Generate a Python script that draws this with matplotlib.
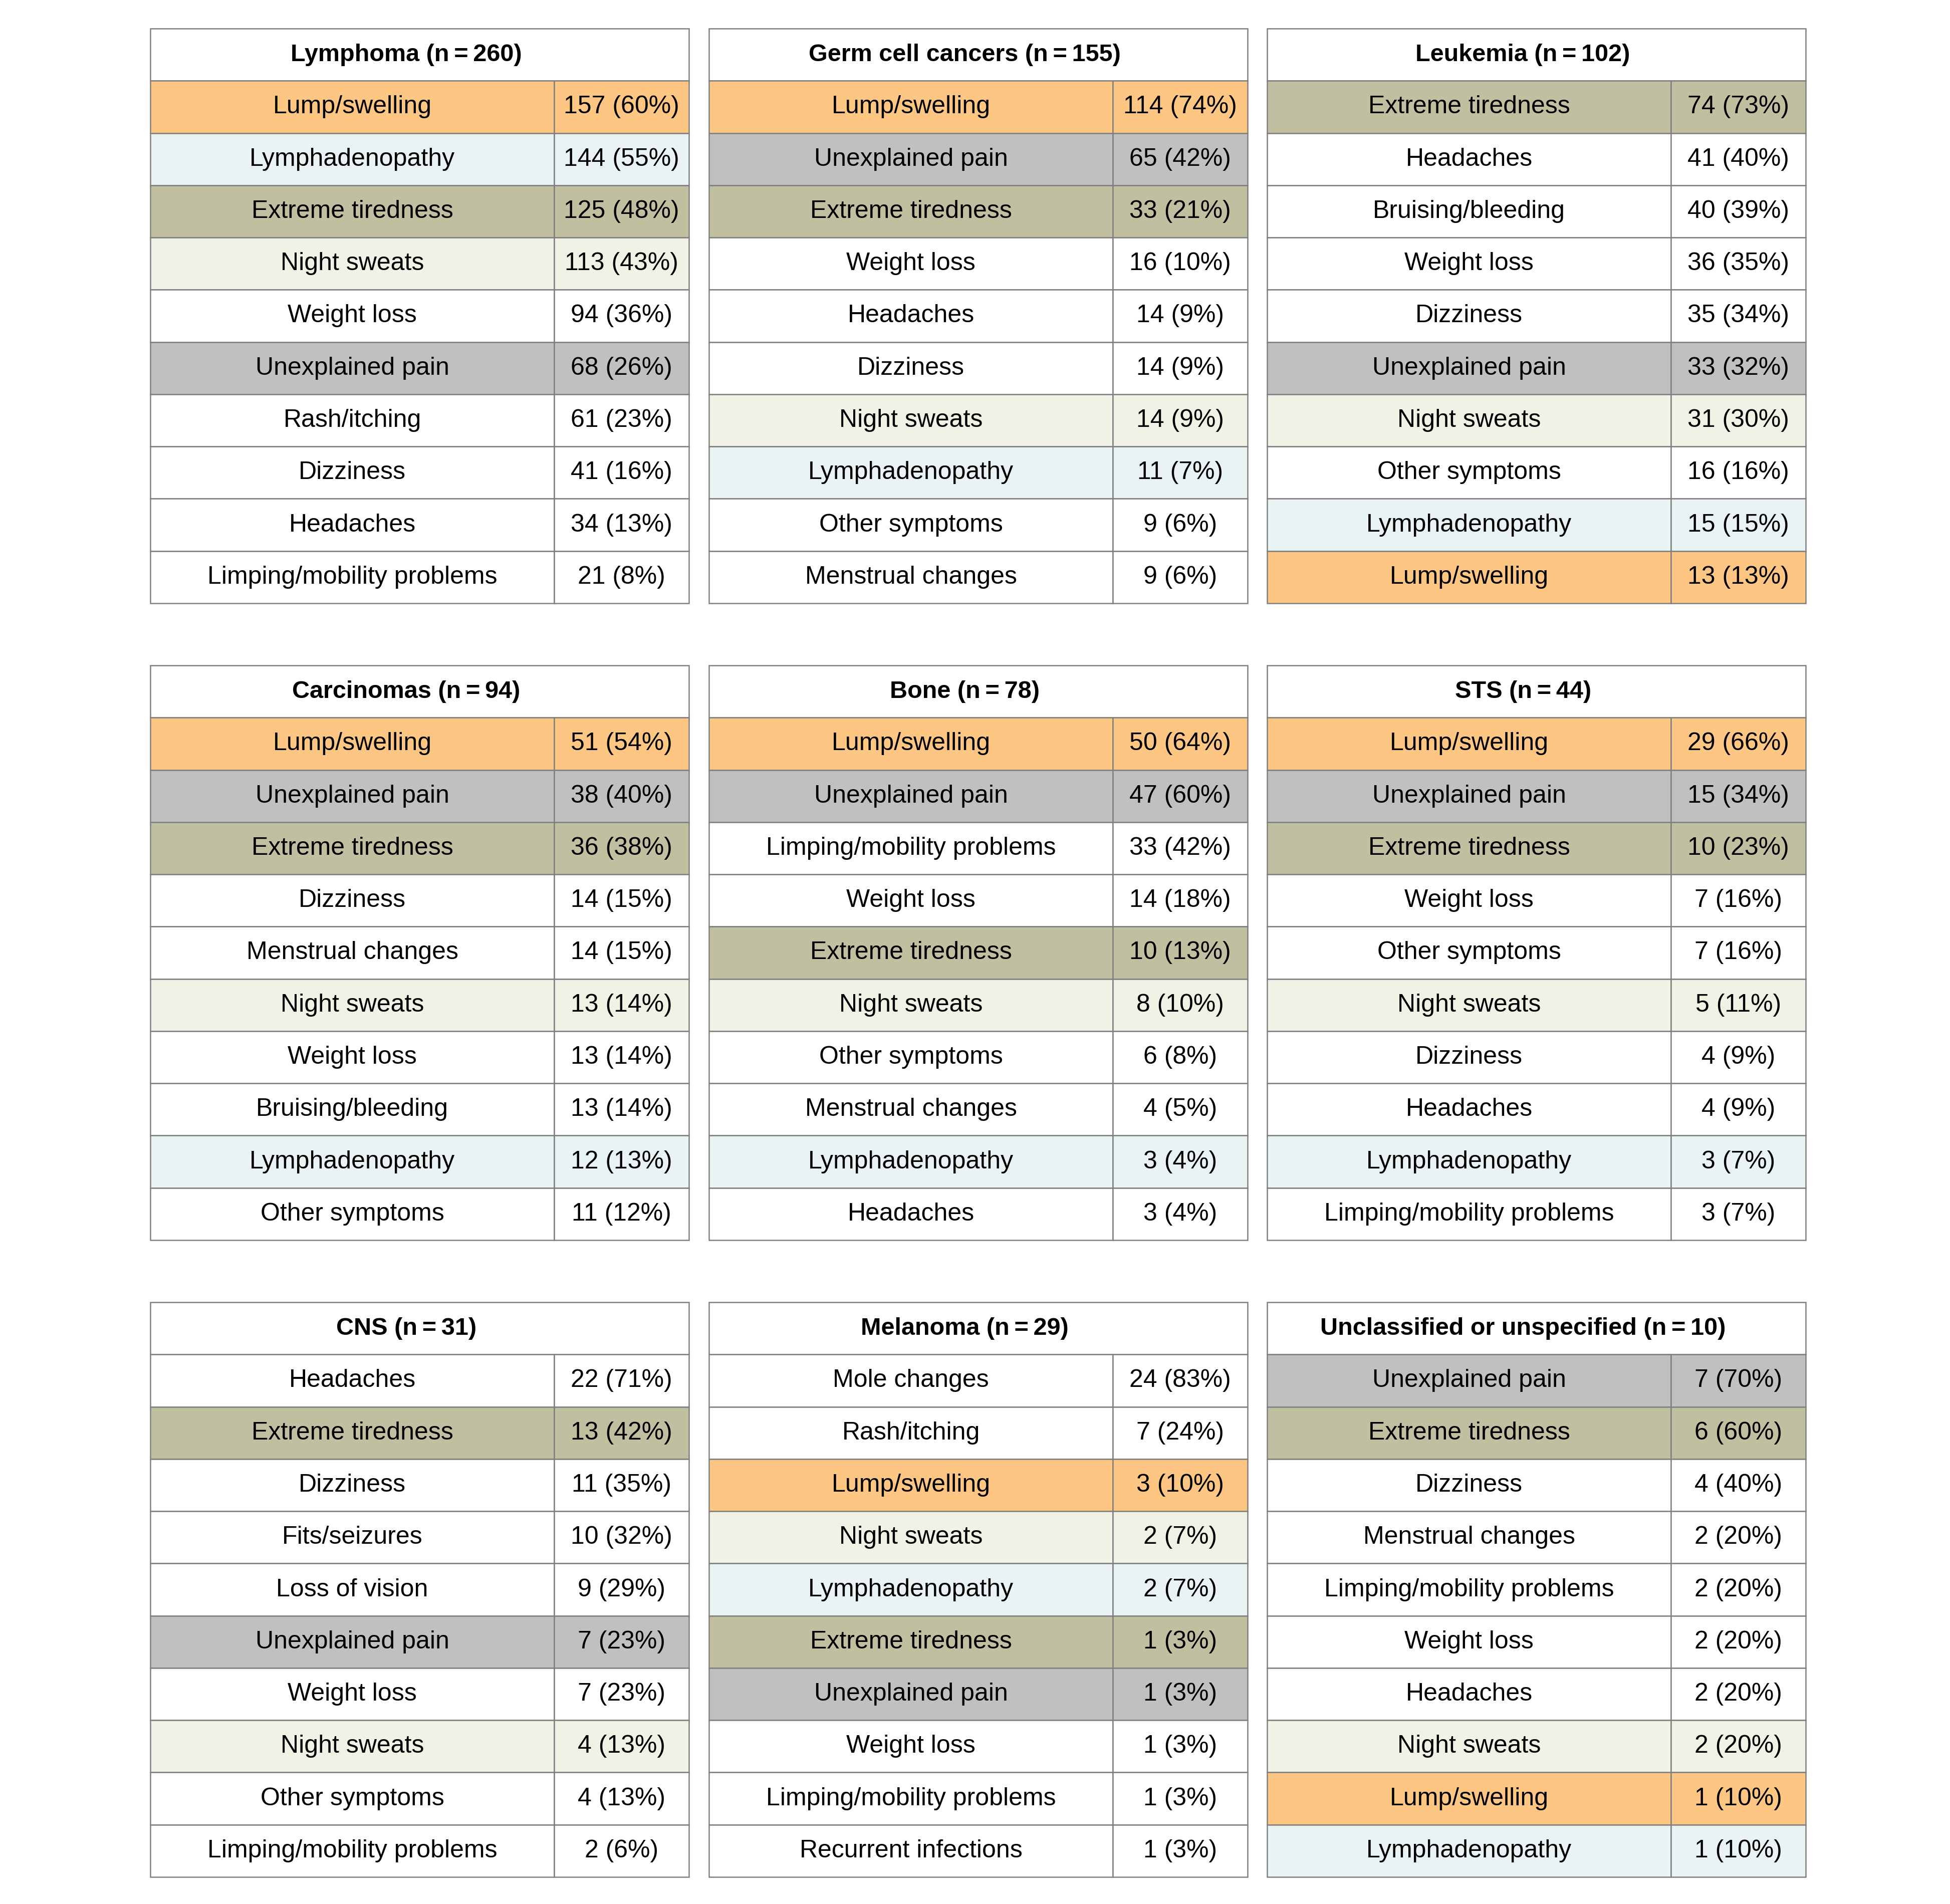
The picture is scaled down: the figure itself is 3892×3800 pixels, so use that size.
import matplotlib.pyplot as plt

''' Symptom tables by cancer group, 3 x 3 grid of small tables '''

plt.rcParams['font.family'] = ['Liberation Sans', 'DejaVu Sans']

groups = ['Lymphoma', 'Germ cell cancers', 'Leukemia',
          'Carcinomas', 'Bone', 'STS',
          'CNS', 'Melanoma', 'Unclassified or unspecified']
group_n = [260, 155, 102, 94, 78, 44, 31, 29, 10]

lymphoma_sym = ['Lump/swelling', 'Lymphadenopathy', 'Extreme tiredness', 'Night sweats', 'Weight loss',
                'Unexplained pain', 'Rash/itching', 'Dizziness', 'Headaches', 'Limping/mobility problems']
lymphoma_cnt = [157, 144, 125, 113, 94, 68, 61, 41, 34, 21]
lymphoma_pct = [60, 55, 48, 43, 36, 26, 23, 16, 13, 8]

germ_sym = ['Lump/swelling', 'Unexplained pain', 'Extreme tiredness', 'Weight loss', 'Headaches',
            'Dizziness', 'Night sweats', 'Lymphadenopathy', 'Other symptoms', 'Menstrual changes']
germ_cnt = [114, 65, 33, 16, 14, 14, 14, 11, 9, 9]
germ_pct = [74, 42, 21, 10, 9, 9, 9, 7, 6, 6]

leukemia_sym = ['Extreme tiredness', 'Headaches', 'Bruising/bleeding', 'Weight loss', 'Dizziness',
                'Unexplained pain', 'Night sweats', 'Other symptoms', 'Lymphadenopathy', 'Lump/swelling']
leukemia_cnt = [74, 41, 40, 36, 35, 33, 31, 16, 15, 13]
leukemia_pct = [73, 40, 39, 35, 34, 32, 30, 16, 15, 13]

carcinoma_sym = ['Lump/swelling', 'Unexplained pain', 'Extreme tiredness', 'Dizziness', 'Menstrual changes',
                 'Night sweats', 'Weight loss', 'Bruising/bleeding', 'Lymphadenopathy', 'Other symptoms']
carcinoma_cnt = [51, 38, 36, 14, 14, 13, 13, 13, 12, 11]
carcinoma_pct = [54, 40, 38, 15, 15, 14, 14, 14, 13, 12]

bone_sym = ['Lump/swelling', 'Unexplained pain', 'Limping/mobility problems', 'Weight loss', 'Extreme tiredness',
            'Night sweats', 'Other symptoms', 'Menstrual changes', 'Lymphadenopathy', 'Headaches']
bone_cnt = [50, 47, 33, 14, 10, 8, 6, 4, 3, 3]
bone_pct = [64, 60, 42, 18, 13, 10, 8, 5, 4, 4]

sts_sym = ['Lump/swelling', 'Unexplained pain', 'Extreme tiredness', 'Weight loss', 'Other symptoms',
           'Night sweats', 'Dizziness', 'Headaches', 'Lymphadenopathy', 'Limping/mobility problems']
sts_cnt = [29, 15, 10, 7, 7, 5, 4, 4, 3, 3]
sts_pct = [66, 34, 23, 16, 16, 11, 9, 9, 7, 7]

cns_sym = ['Headaches', 'Extreme tiredness', 'Dizziness', 'Fits/seizures', 'Loss of vision',
           'Unexplained pain', 'Weight loss', 'Night sweats', 'Other symptoms', 'Limping/mobility problems']
cns_cnt = [22, 13, 11, 10, 9, 7, 7, 4, 4, 2]
cns_pct = [71, 42, 35, 32, 29, 23, 23, 13, 13, 6]

melanoma_sym = ['Mole changes', 'Rash/itching', 'Lump/swelling', 'Night sweats', 'Lymphadenopathy',
                'Extreme tiredness', 'Unexplained pain', 'Weight loss', 'Limping/mobility problems',
                'Recurrent infections']
melanoma_cnt = [24, 7, 3, 2, 2, 1, 1, 1, 1, 1]
melanoma_pct = [83, 24, 10, 7, 7, 3, 3, 3, 3, 3]

unclass_sym = ['Unexplained pain', 'Extreme tiredness', 'Dizziness', 'Menstrual changes',
               'Limping/mobility problems', 'Weight loss', 'Headaches', 'Night sweats', 'Lump/swelling',
               'Lymphadenopathy']
unclass_cnt = [7, 6, 4, 2, 2, 2, 2, 2, 1, 1]
unclass_pct = [70, 60, 40, 20, 20, 20, 20, 20, 10, 10]

all_sym = [lymphoma_sym, germ_sym, leukemia_sym, carcinoma_sym, bone_sym, sts_sym, cns_sym, melanoma_sym, unclass_sym]
all_cnt = [lymphoma_cnt, germ_cnt, leukemia_cnt, carcinoma_cnt, bone_cnt, sts_cnt, cns_cnt, melanoma_cnt, unclass_cnt]
all_pct = [lymphoma_pct, germ_pct, leukemia_pct, carcinoma_pct, bone_pct, sts_pct, cns_pct, melanoma_pct, unclass_pct]

# highlight colours for the recurring symptoms
sym_colors = {
    'Lump/swelling': '#fec683',
    'Lymphadenopathy': '#e9f3f4',
    'Extreme tiredness': '#c0c0a0',
    'Night sweats': '#f0f2e6',
    'Unexplained pain': '#c0c0c0',
}

W, H = 3892, 3800
fig = plt.figure(figsize=(W / 100, H / 100), dpi=100)

lefts = [300, 1415, 2529]
tops = [57, 1328, 2599]
pw, ph = 1075, 1147
edge = '#808080'
lw = 1.8

for k in range(9):
    r, c = divmod(k, 3)
    ax = fig.add_axes([lefts[c] / W, 1 - (tops[r] + ph) / H, pw / W, ph / H])
    ax.set_xlim(0, 1)
    ax.set_ylim(11, 0)
    ax.axis('off')

    # header row
    ax.barh(0, 1, left=0, height=1, align='edge', color='white', edgecolor=edge, linewidth=lw, clip_on=False)
    ax.text(0.475, 0.5, '%s (n\u2009=\u2009%d)' % (groups[k], group_n[k]), ha='center', va='center',
            fontsize=35, fontweight='bold')

    for i, s in enumerate(all_sym[k]):
        y = i + 1
        col = sym_colors.get(s, 'white')
        ax.barh(y, 0.75, left=0, height=1, align='edge', color=col, edgecolor=edge, linewidth=lw, clip_on=False)
        ax.barh(y, 0.25, left=0.75, height=1, align='edge', color=col, edgecolor=edge, linewidth=lw, clip_on=False)
        ax.text(0.375, y + 0.5, s, ha='center', va='center', fontsize=36)
        ax.text(0.875, y + 0.5, '%d (%d%%)' % (all_cnt[k][i], all_pct[k][i]), ha='center', va='center', fontsize=36)

plt.savefig('out.png', dpi=100, facecolor='white')
